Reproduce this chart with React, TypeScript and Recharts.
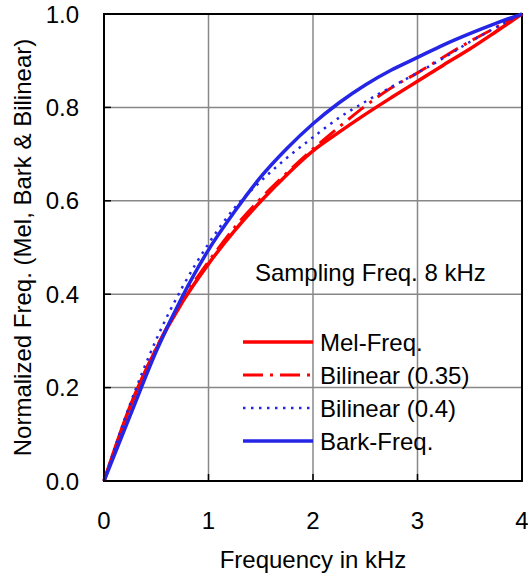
import {
  LineChart,
  Line,
  XAxis,
  YAxis,
  CartesianGrid,
  ReferenceArea,
} from "recharts";

// frequency in kHz
const freqs = [0, 0.25, 0.5, 0.75, 1, 1.25, 1.5, 1.75, 2, 2.25, 2.5, 2.75, 3, 3.25, 3.5, 3.75, 4];

// normalized warped frequency
const melFreq = [0, 0.16, 0.283, 0.383, 0.465, 0.536, 0.599, 0.656, 0.707, 0.747, 0.785, 0.821, 0.856, 0.891, 0.925, 0.962, 1];
const bilinear035 = [0, 0.158, 0.285, 0.388, 0.47, 0.543, 0.605, 0.66, 0.711, 0.758, 0.803, 0.842, 0.874, 0.908, 0.941, 0.971, 1];
const bilinear04 = [0, 0.165, 0.303, 0.415, 0.508, 0.585, 0.642, 0.692, 0.736, 0.778, 0.812, 0.844, 0.874, 0.906, 0.94, 0.971, 1];
const barkFreq = [0, 0.14, 0.278, 0.395, 0.495, 0.577, 0.651, 0.712, 0.765, 0.81, 0.848, 0.88, 0.907, 0.934, 0.958, 0.98, 1];

const xTicks = [0, 1, 2, 3, 4];
const yTicks = [0, 0.2, 0.4, 0.6, 0.8, 1];

const legendItems = [
  { label: "Mel-Freq.", color: "#ff0000", dash: undefined, width: 3.5 },
  { label: "Bilinear (0.35)", color: "#ff0000", dash: "20 7 3 7", width: 3 },
  { label: "Bilinear (0.4)", color: "#2525e6", dash: "2.5 5.5", width: 2.5 },
  { label: "Bark-Freq.", color: "#2525e6", dash: undefined, width: 3.5 },
];

const FONT = "Arial, 'Liberation Sans', sans-serif";

const data = freqs.map((f, i) => ({
  f,
  mel: melFreq[i],
  bil35: bilinear035[i],
  bil4: bilinear04[i],
  bark: barkFreq[i],
}));

export default function App() {
  return (
    <div style={{ position: "absolute", left: 0, top: 0, width: 528, height: 579, background: "#fff" }}>
      <LineChart
        width={528}
        height={579}
        data={data}
        margin={{ top: 14, right: 6, bottom: 0, left: 0 }}
        style={{ fontFamily: FONT }}
      >
        <CartesianGrid stroke="#888" strokeWidth={1.5} />
        <XAxis
          dataKey="f"
          type="number"
          domain={[0, 4]}
          ticks={xTicks}
          interval={0}
          height={98}
          axisLine={false}
          tickSize={-7}
          tickMargin={38}
          tickLine={{ stroke: "#000", strokeWidth: 1.5 }}
          tick={{ fill: "#000", fontSize: 24, fontFamily: FONT }}
          label={{ value: "Frequency in kHz", position: "insideBottom", offset: 11, fill: "#000", fontSize: 24, fontFamily: FONT }}
        />
        <YAxis
          type="number"
          domain={[0, 1]}
          ticks={yTicks}
          interval={0}
          width={104}
          axisLine={false}
          tickSize={-7}
          tickMargin={32}
          tickFormatter={(v: number) => v.toFixed(1)}
          tickLine={{ stroke: "#000", strokeWidth: 1.5 }}
          tick={{ fill: "#000", fontSize: 24, fontFamily: FONT }}
          label={{
            value: "Normalized Freq. (Mel, Bark & Bilinear)",
            angle: -90,
            position: "insideLeft",
            offset: 22,
            fill: "#000",
            fontSize: 24,
            fontFamily: FONT,
            style: { textAnchor: "middle" },
          }}
        />
        <ReferenceArea x1={0} x2={4} y1={0} y2={1} fill="none" stroke="#000" strokeWidth={2} ifOverflow="visible" />
        <Line type="monotone" dataKey="mel" stroke="#ff0000" strokeWidth={3.5} dot={false} isAnimationActive={false} />
        <Line type="monotone" dataKey="bil35" stroke="#ff0000" strokeWidth={3} strokeDasharray="20 7 3 7" dot={false} isAnimationActive={false} />
        <Line type="monotone" dataKey="bil4" stroke="#2525e6" strokeWidth={2.5} strokeDasharray="2.5 5.5" dot={false} isAnimationActive={false} />
        <Line type="monotone" dataKey="bark" stroke="#2525e6" strokeWidth={3.5} dot={false} isAnimationActive={false} />
      </LineChart>
      <svg
        width={528}
        height={579}
        style={{ position: "absolute", left: 0, top: 0, pointerEvents: "none", fontFamily: FONT }}
      >
        <text x={255} y={281} fontSize={24} fill="#000">Sampling Freq. 8 kHz</text>
        {legendItems.map((item, i) => {
          const y = 342 + i * 33;
          return (
            <g key={item.label}>
              <line x1={243} x2={313} y1={y} y2={y} stroke={item.color} strokeWidth={item.width} strokeDasharray={item.dash} />
              <text x={320} y={y + 8.6} fontSize={24} fill="#000">{item.label}</text>
            </g>
          );
        })}
      </svg>
    </div>
  );
}
